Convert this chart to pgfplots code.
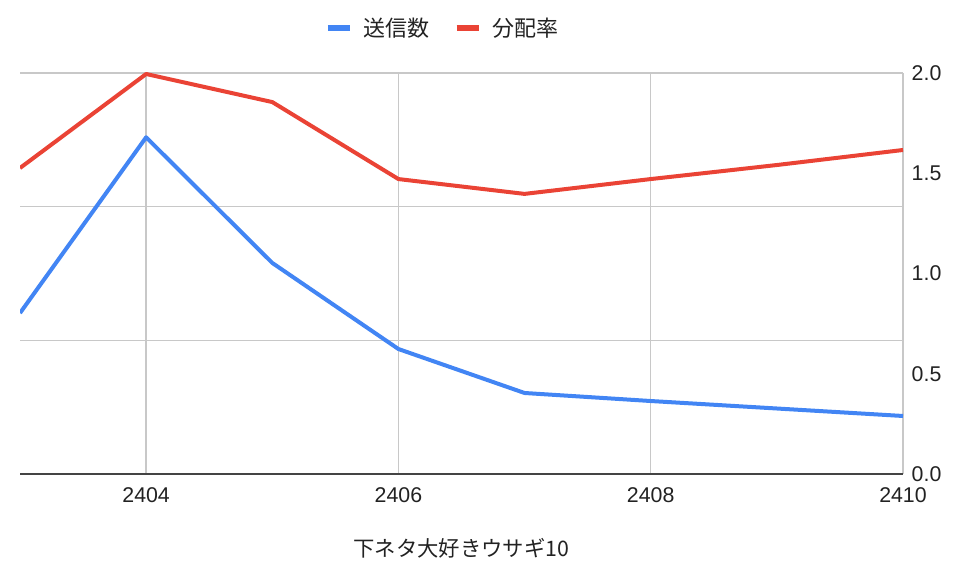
\documentclass[border=0pt]{standalone}
\usepackage{fontspec}
\setmainfont{Liberation Sans}
\newfontfamily\cjk{Noto Sans CJK JP}
\usepackage{pgfplots}
\pgfplotsset{compat=1.18}
\definecolor{gblue}{HTML}{4285F4}
\definecolor{gred}{HTML}{EA4335}
\definecolor{ggrid}{HTML}{C8C8C8}
\definecolor{gaxis}{HTML}{444444}
\definecolor{gtext}{HTML}{222222}
\begin{document}
\begin{tikzpicture}
\useasboundingbox (0,0) rectangle (724.5pt,430.5pt);
\begin{axis}[
  at={(15pt,75pt)}, anchor=south west, scale only axis,
  width=662.25pt, height=300.75pt,
  xmin=2403, xmax=2410, ymin=0, ymax=3,
  xtick={2404,2406,2408,2410}, ytick={1,2,3}, yticklabels={},
  /pgf/number format/1000 sep={},
  /pgf/number format/assume math mode=true,
  xticklabel style={font=\fontsize{16}{19}\selectfont, text=gtext, yshift=-6.5pt},
  ymajorgrids, xmajorgrids, grid style={ggrid, line width=1.1pt},
  major tick length=0pt,
  axis line style={draw=none},
  extra y ticks={0}, extra y tick labels={},
  extra y tick style={grid style={gaxis, line width=1.6pt}},
]
\addplot[gblue, line width=3pt, line join=round] coordinates {
  (2403,1.204) (2404,2.519) (2405,1.579) (2406,0.935)
  (2407,0.606) (2408,0.546) (2409,0.490) (2410,0.434)};
\end{axis}
\begin{axis}[
  at={(15pt,75pt)}, anchor=south west, scale only axis,
  width=662.25pt, height=300.75pt,
  xmin=2403, xmax=2410, ymin=0, ymax=2,
  hide x axis,
  axis y line*=right,
  axis line style={draw=none},
  major tick length=0pt,
  ytick={0,0.5,1,1.5,2},
  /pgf/number format/assume math mode=true,
  yticklabel={\pgfmathprintnumber[fixed,fixed zerofill,precision=1]{\tick}},
  yticklabel style={font=\fontsize{16}{19}\selectfont, text=gtext, anchor=west, xshift=3pt},
  legend columns=2,
  legend style={at={(axis description cs:0.479,1.112)}, anchor=center,
    draw=none, fill=none, text=gtext,
    font=\cjk\fontsize{16.5}{20}\selectfont,
    /tikz/every odd column/.append style={column sep=6pt},
    /tikz/every even column/.append style={column sep=15.5pt}},
  legend image code/.code={\draw[#1, line width=5pt, line cap=butt] (0pt,0pt) -- (16.5pt,0pt);},
]
\addlegendimage{gblue, line width=3pt}
\addlegendentry{送信数}
\addplot[gred, line width=3pt, line join=round] coordinates {
  (2403,1.526) (2404,1.995) (2405,1.855) (2406,1.471)
  (2407,1.397) (2408,1.471) (2409,1.541) (2410,1.616)};
\addlegendentry{分配率}
\end{axis}
\node[font=\cjk\fontsize{16}{19}\selectfont, text=gtext] at (346.1pt,19.5pt) {下ネタ大好きウサギ10};
\end{tikzpicture}
\end{document}
